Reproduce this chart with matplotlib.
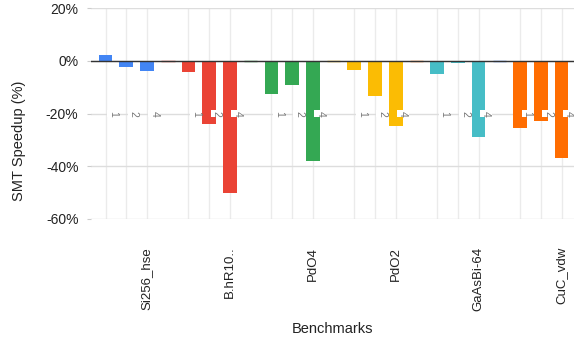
import numpy as np
import matplotlib
matplotlib.use("Agg")
import matplotlib.pyplot as plt

plt.rcParams['font.family'] = ['Liberation Sans', 'DejaVu Sans']

# data
benchmarks = ['Si256_hse', 'B.hR10..', 'PdO4', 'PdO2', 'GaAsBi-64', 'CuC_vdw']
threads = ['1', '2', '4']
speedup = [
    [2.0, -2.4, -4.0],      # Si256_hse
    [-4.4, -24.0, -50.0],   # B.hR10..
    [-12.6, -9.3, -38.1],   # PdO4
    [-3.5, -13.5, -24.6],   # PdO2
    [-5.0, -1.0, -28.9],    # GaAsBi-64
    [-25.5, -22.8, -36.9],  # CuC_vdw
]
colors = ['#4285F4', '#EA4335', '#34A853', '#FBBC04', '#46BDC6', '#FF6D01']
gap_colors = ['#EA4335', '#34A853', '#FBBC04', '#FF6D01', '#4285F4', '#46BDC6']
yticks = [20, 0, -20, -40, -60]

fig = plt.figure(figsize=(5.74, 3.43), dpi=100)
ax = fig.add_axes([91/574, (343-219)/343, (574-91)/574, (219-8)/343])

slot = 4
bar_pos = []
for i, name in enumerate(benchmarks):
    x = i*slot + np.arange(len(threads))
    bar_pos.extend(x)
    ax.bar(x, speedup[i], width=0.66, color=colors[i], zorder=3)
    for xx, t in zip(x, threads):
        ax.text(xx + 0.36, -20, t, rotation=-90, fontsize=7.5, color='#757575',
                ha='center', va='center', zorder=4,
                bbox=dict(boxstyle='square,pad=0.1', fc='white', ec='none'))
    # empty slot after each group
    ax.bar(i*slot + 3, 0, width=0.66, color=gap_colors[i],
           edgecolor=gap_colors[i], linewidth=1, zorder=3)

ax.set_xlim(-0.7, 22.6)
ax.set_ylim(-60, 20)
ax.set_yticks(yticks)
ax.set_yticklabels([f'{v}%' for v in yticks], fontsize=10, color='#222222')
ax.tick_params(axis='y', length=3, color='#cccccc', pad=6)

ax.set_xticks([i*slot + 2 for i in range(len(benchmarks))])
ax.set_xticklabels(benchmarks, rotation=90, fontsize=9.5, color='#222222')
ax.set_xticks(bar_pos, minor=True)
ax.tick_params(axis='x', which='both', length=0, pad=20)

ax.grid(axis='x', which='both', color='#ebebeb', linewidth=1, zorder=0)
ax.grid(axis='y', which='major', color='#dddddd', linewidth=1, zorder=0)
ax.axhline(0, color='#333333', linewidth=1, zorder=3.5)

for s in ax.spines.values():
    s.set_visible(False)

ax.set_ylabel('SMT Speedup (%)', fontsize=10.5, color='#222222')
ax.yaxis.set_label_coords(-0.135, 0.37)
ax.set_xlabel('Benchmarks', fontsize=10.5, color='#222222')
ax.xaxis.set_label_coords(0.5, -0.49)

fig.savefig('out.png', dpi=100)
